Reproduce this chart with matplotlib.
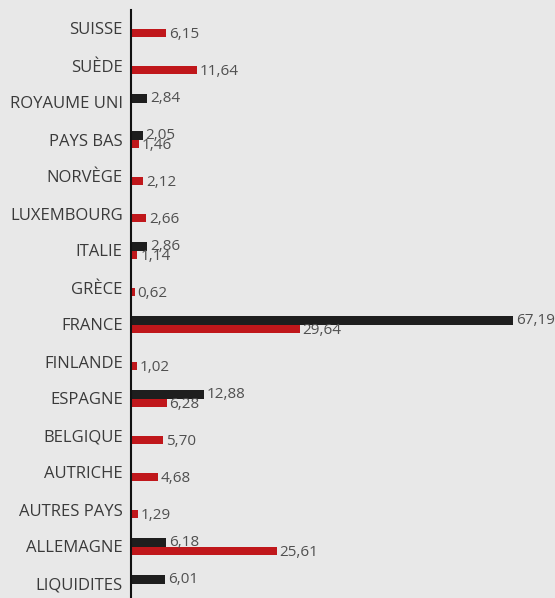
import numpy as np
import matplotlib.pyplot as plt

categories = ['SUISSE', 'SUÈDE', 'ROYAUME UNI', 'PAYS BAS', 'NORVÈGE', 'LUXEMBOURG',
              'ITALIE', 'GRÈCE', 'FRANCE', 'FINLANDE', 'ESPAGNE', 'BELGIQUE',
              'AUTRICHE', 'AUTRES PAYS', 'ALLEMAGNE', 'LIQUIDITES']
black_vals = [None, None, 2.84, 2.05, None, None, 2.86, None, 67.19, None,
              12.88, None, None, None, 6.18, 6.01]
red_vals = [6.15, 11.64, None, 1.46, 2.12, 2.66, 1.14, 0.62, 29.64, 1.02,
            6.28, 5.70, 4.68, 1.29, 25.61, None]

BG = '#e8e8e8'
BLACK = '#1e1e1e'
RED = '#c0171b'

plt.rcParams['font.family'] = ['Open Sans', 'DejaVu Sans']

fig = plt.figure(figsize=(5.55, 5.98), dpi=100, facecolor=BG)
ax = fig.add_axes([131 / 555, 0, 1 - 131 / 555, 1 - 10 / 598])
ax.set_facecolor(BG)

y = np.arange(len(categories))
h = 0.23


def fmt(v):
    return f'{v:.2f}'.replace('.', ',')


for vals, color, off in [(black_vals, BLACK, -h / 2), (red_vals, RED, h / 2)]:
    for i, v in enumerate(vals):
        if v is None:
            continue
        ax.barh(y[i] + off, v, height=h, color=color, linewidth=0)
        ax.annotate(fmt(v), (v, y[i] + off), xytext=(2, -1 if off > 0 else 0),
                    textcoords='offset points', va='center', ha='left',
                    fontsize=11, color='#505050')

ax.set_xlim(0, (555 - 131) / ((513 - 131) / 67.19))
ax.set_ylim((598 - 28.5) / 37, -0.5)
ax.set_yticks(y)
ax.set_yticklabels(categories, fontsize=12, color='#3a3a3a')
ax.tick_params(axis='y', length=0, pad=6)
ax.set_xticks([])
for side in ['top', 'right', 'bottom']:
    ax.spines[side].set_visible(False)
ax.spines['left'].set_color('#111111')
ax.spines['left'].set_linewidth(1.5)

fig.savefig('out.png', dpi=100, facecolor=BG)
